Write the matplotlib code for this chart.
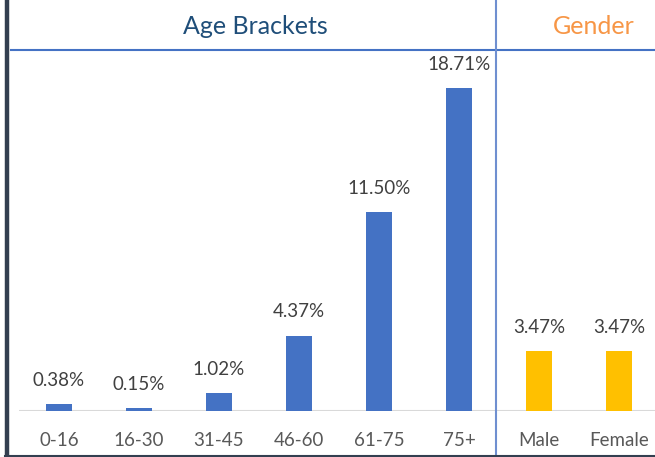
import matplotlib
matplotlib.use("Agg")
import matplotlib.pyplot as plt
from matplotlib.lines import Line2D

categories = ["0-16", "16-30", "31-45", "46-60", "61-75", "75+", "Male", "Female"]
values = [0.38, 0.15, 1.02, 4.37, 11.50, 18.71, 3.47, 3.47]
groups = ["age", "age", "age", "age", "age", "age", "gender", "gender"]
group_titles = {"age": "Age Brackets", "gender": "Gender"}

plt.rcParams['font.family'] = ['Lato', 'DejaVu Sans']

W, H = 655, 457
fig = plt.figure(figsize=(W / 100, H / 100), dpi=100)

def fx(px):
    return px / W

def fy(py):
    return 1 - py / H

# axes: x from category -0.5 (px 19) to 7.5 (px 659); y 0 at px 411, top at px 49
ax_left, ax_right = 19, 659
ax_top, ax_bottom = 49, 411
ax = fig.add_axes([fx(ax_left), fy(ax_bottom), fx(ax_right - ax_left), (ax_bottom - ax_top) / H])
ax.set_xlim(-0.5, 7.5)
ymax = 18.71 * (ax_bottom - ax_top) / (411 - 88)
ax.set_ylim(0, ymax)

colors = ["#4472C4" if g == "age" else "#FFC000" for g in groups]
x = list(range(len(categories)))
bars = ax.bar(x, values, width=0.32, color=colors, zorder=3)
for xi, v in zip(x, values):
    ax.annotate(f"{v:.2f}%", (xi, v), xytext=(0, 11), textcoords="offset points",
                ha="center", va="bottom", fontsize=13.5, color="#404040")

for s in ax.spines.values():
    s.set_visible(False)
ax.set_yticks([])
ax.set_xticks(x)
ax.set_xticklabels(categories, fontsize=13.5, color="#595959")
ax.tick_params(axis="x", length=0, pad=15)
ax.axhline(0, color="#D9D9D9", lw=1.5, zorder=2)
ax.patch.set_alpha(0)

# decorations in figure coordinates
fig.add_artist(Line2D([fx(11), fx(655)], [fy(49.5), fy(49.5)], color="#4472C4", lw=1.5))
fig.add_artist(Line2D([fx(496), fx(496)], [fy(0), fy(455)], color="#6F8FD0", lw=1.5))
fig.add_artist(Line2D([fx(7), fx(7)], [fy(0), fy(457)], color="#333F50", lw=3.2))
fig.add_artist(Line2D([fx(5), fx(655)], [fy(455.5), fy(455.5)], color="#333F50", lw=1.5))

fig.text(fx(255), fy(27), group_titles["age"], ha="center", va="center",
         fontsize=18, color="#1F4E79")
fig.text(fx(594), fy(27), group_titles["gender"], ha="center", va="center",
         fontsize=18, color="#F79646")

fig.savefig("out.png", dpi=100)
